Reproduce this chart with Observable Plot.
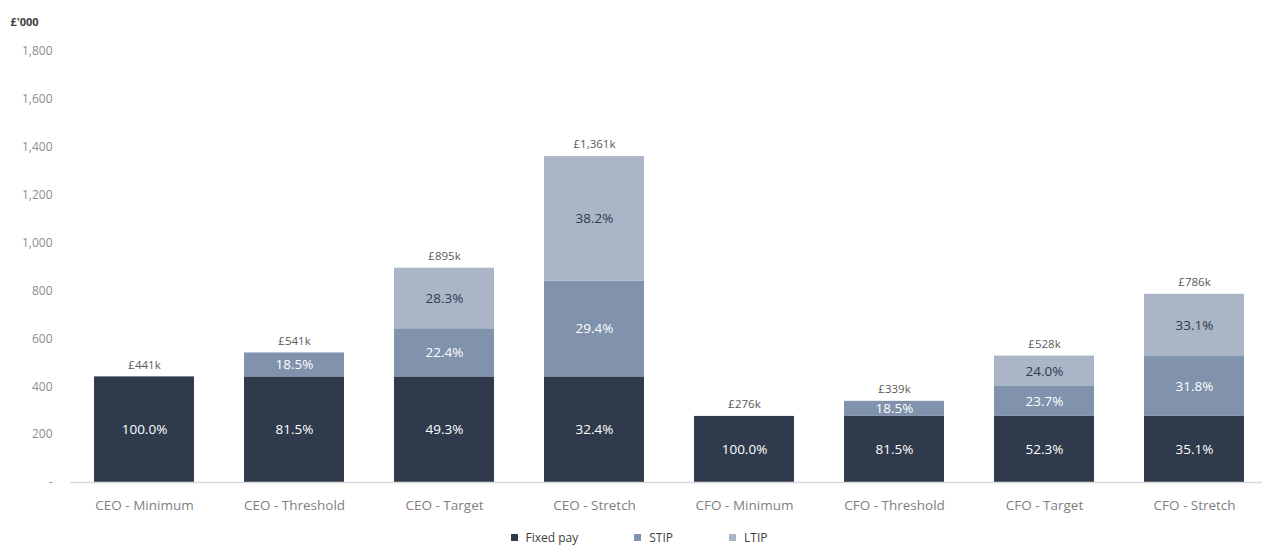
<!DOCTYPE html>
<html>
<head>
<meta charset="utf-8">
<script src="https://cdn.jsdelivr.net/npm/d3@7"></script>
<script src="https://cdn.jsdelivr.net/npm/@observablehq/plot@0.6"></script>
<style>
  html, body { margin: 0; padding: 0; background: #fff; }
  body { width: 1262px; height: 548px; overflow: hidden; font-family: "Open Sans", sans-serif; }
  #legend { display: flex; justify-content: center; gap: 56px; font-size: 12px; color: #404040; margin-top: 7px; margin-left: 16px; }
  #legend span.item { display: flex; align-items: center; gap: 8px; }
  #legend i { display: inline-block; width: 7px; height: 7px; }
</style>
</head>
<body>
<div id="chart"></div>
<div id="legend"></div>
<script>
const categories = ["CEO - Minimum","CEO - Threshold","CEO - Target","CEO - Stretch","CFO - Minimum","CFO - Threshold","CFO - Target","CFO - Stretch"];
const seriesNames = ["Fixed pay","STIP","LTIP"];
const seriesColors = ["#2f3a4c","#8092ac","#aab5c8"];
const fixedPay = [441,441,441,441,276,276,276,276];
const stip = [0,100,201,400,0,63,125,250];
const ltip = [0,0,253,520,0,0,127,260];
const totalLabels = ["£441k","£541k","£895k","£1,361k","£276k","£339k","£528k","£786k"];
const fixedPct = ["100.0%","81.5%","49.3%","32.4%","100.0%","81.5%","52.3%","35.1%"];
const stipPct = ["","18.5%","22.4%","29.4%","","18.5%","23.7%","31.8%"];
const ltipPct = ["","","28.3%","38.2%","","","24.0%","33.1%"];
const yTicks = [0,200,400,600,800,1000,1200,1400,1600,1800];

const valuesBySeries = [fixedPay, stip, ltip];
const pctBySeries = [fixedPct, stipPct, ltipPct];
const rows = [];
categories.forEach((c, i) => {
  seriesNames.forEach((s, j) => {
    rows.push({category: c, series: s, value: valuesBySeries[j][i], pct: pctBySeries[j][i]});
  });
});
const totals = categories.map((c, i) => ({category: c, total: fixedPay[i] + stip[i] + ltip[i], label: totalLabels[i]}));

const font = "Open Sans, sans-serif";
const chart = Plot.plot({
  width: 1262,
  height: 522,
  marginLeft: 70,
  marginRight: 0,
  marginTop: 51,
  marginBottom: 40,
  style: {fontFamily: font, background: "#fff"},
  x: {domain: categories, range: [76, 1262], paddingInner: 1/3, paddingOuter: 0.12, label: null},
  y: {domain: [0, 1800], ticks: yTicks, label: null},
  color: {domain: seriesNames, range: seriesColors},
  marks: [
    Plot.barY(rows.filter(d => d.value > 0), {x: "category", y: "value", fill: "series", order: seriesNames}),
    Plot.ruleY([0], {stroke: "#d9d9d9", strokeWidth: 1.5}),
    Plot.text(rows.filter(d => d.value > 0), Plot.stackY({
      x: "category", y: "value", z: "series", order: seriesNames, text: "pct",
      fill: d => d.series === "LTIP" ? "#2f3a4c" : "#ffffff",
      fontSize: 13.5
    })),
    Plot.text(totals, {x: "category", y: "total", text: "label", dy: -12, fill: "#595959", fontSize: 11.5}),
    Plot.axisX({tickSize: 0, tickPadding: 18, fontSize: 13.5, color: "#7f7f7f", label: null}),
    Plot.axisY({ticks: yTicks, tickSize: 0, tickPadding: 18, fontSize: 12, color: "#8c8c8c", label: null,
      tickFormat: d => d === 0 ? "-" : d3.format(",")(d)}),
    Plot.text(["£'000"], {frameAnchor: "top-left", dx: -60, dy: -33, fill: "#404040", fontSize: 11, fontWeight: "bold", textAnchor: "start"})
  ]
});
document.getElementById("chart").appendChild(chart);

const legend = document.getElementById("legend");
seriesNames.forEach((s, j) => {
  const item = document.createElement("span");
  item.className = "item";
  const sw = document.createElement("i");
  sw.style.background = seriesColors[j];
  item.appendChild(sw);
  const t = document.createElement("span");
  t.textContent = s;
  item.appendChild(t);
  legend.appendChild(item);
});
</script>
</body>
</html>
